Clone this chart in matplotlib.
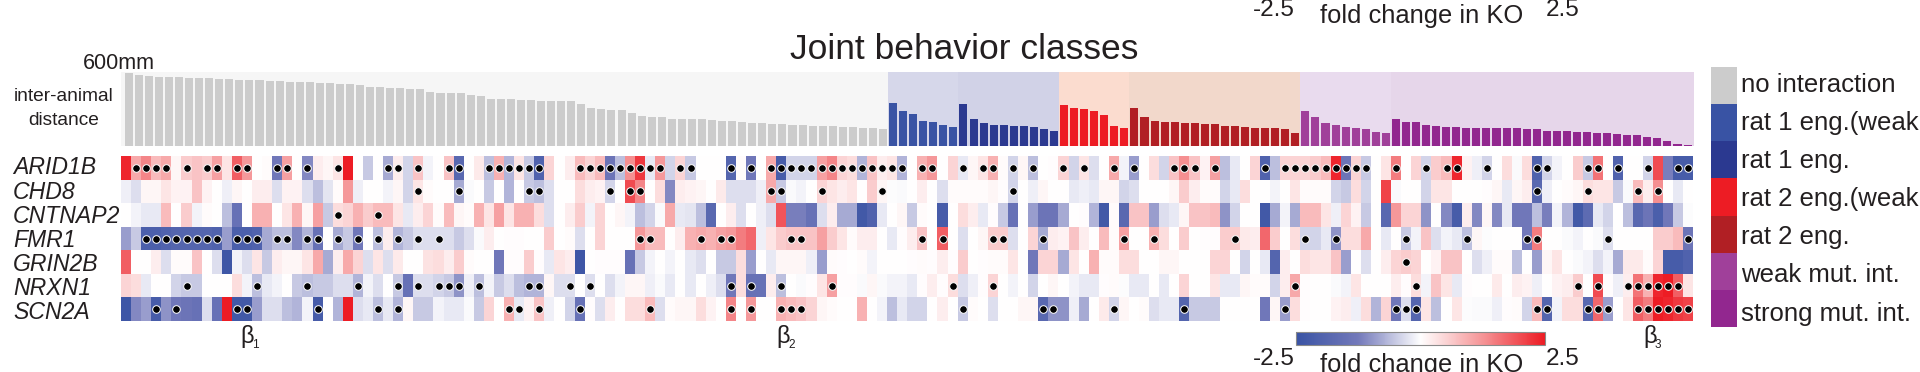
import matplotlib
matplotlib.use('Agg')
import matplotlib.pyplot as plt
from matplotlib.colors import LinearSegmentedColormap
from matplotlib.cm import ScalarMappable
from matplotlib.colors import Normalize
import numpy as np

plt.rcParams['font.family'] = ['Liberation Sans', 'DejaVu Sans']

W, H = 1920, 372

# inter-animal distance in mm, one per interaction, grouped by class
distance = [589,573,567,562,559,557,554,554,551,546,540,535,535,532,527,524,521,519,516,510,
            510,505,502,494,481,478,472,470,464,459,437,432,426,426,413,405,380,378,377,372,
            372,367,367,367,361,339,310,299,291,291,269,244,236,233,217,217,214,214,209,204,
            201,193,187,182,176,174,168,166,163,160,157,155,152,147,141,133,
            345,282,261,204,195,171,149,
            339,214,182,171,166,163,160,155,133,122,
            329,304,296,282,252,163,147,
            307,231,204,190,190,185,182,179,174,163,157,152,147,144,141,133,106,
            280,236,185,166,152,144,133,114,106,
            214,195,195,166,163,152,155,144,144,141,141,141,141,138,133,122,122,117,111,109,
            103,100,95,87,84,68,65,38,14,3]
class_names = ['no interaction', 'rat 1 eng.(weak', 'rat 1 eng.', 'rat 2 eng.(weak',
               'rat 2 eng.', 'weak mut. int.', 'strong mut. int.']
class_sizes = [76, 7, 10, 7, 17, 9, 30]
class_colors = ['#cccccc', '#3953a4', '#2b3990', '#ed1c24', '#b11f24', '#a0409a', '#92278f']
class_bg = ['#f6f6f6', '#d6d7ea', '#d1d2e7', '#fbdccf', '#f2d8cb', '#e9dbee', '#e6d6ea']

genes = ['ARID1B', 'CHD8', 'CNTNAP2', 'FMR1', 'GRIN2B', 'NRXN1', 'SCN2A']

# fold change in KO
ARID1B = [2.4,1.0,1.4,0.8,1.0,0.1,0.6,0.7,0.6,1.1,0.3,1.8,1.2,0,0.05,-1.3,1.1,0,-1.1,0.2,0.1,0.3,2.5,0,-0.5,0,-0.8,0.2,-0.4,
          0.7,-0.1,0,0.7,-1.8,0,0.25,-0.6,0.9,-0.7,0.3,-0.5,-2.0,0.5,0,0.2,0.8,0.5,0.8,-1.4,-0.6,1.3,2.2,-0.2,1.2,-0.4,0.5,-0.5,0,
          0,0,-1.9,0.05,-1.3,0,1.0,-2.2,-0.4,-0.4,-0.4,1.1,1.4,0.5,0.4,-0.7,0.7,0.2,0.3,-0.7,0,0.9,1.2,0,0.5,-0.2,0.1,0.3,0.9,0.05,-0.4,
          0.1,-0.6,0,0.02,0.5,-0.4,0.3,-0.3,0,1.0,-0.1,-0.9,0,0.4,-0.4,0.7,1.3,0.7,0.15,1.1,-0.6,-0.2,0,0.5,-2.0,-0.6,0.5,0.5,0.5,
          0.6,0.8,2.4,-1.4,0.5,-0.5,0,0.3,1.5,0,0.5,-0.4,0.6,0.8,2.4,0.15,-0.15,-0.4,0,0.4,-0.05,0.4,-2.0,-0.4,-0.1,0,0.6,-0.5,1.6,0,-2.0,0,0,-0.4,2.0,-1.2,-2.2,-2.2]
CHD8 = [-0.15,-0.3,0.1,0.1,0.3,0.15,0.15,0.7,0.15,0,-0.15,0.1,0,0.2,0.2,-0.3,0.15,0.15,-0.3,-0.6,-0.25,0.05,1.2,-0.15,0,0,-0.1,0.1,-0.4,
        0.3,0.05,0,0,-0.8,-0.05,0,-0.5,0,-0.7,0,-0.5,-0.6,-0.3,0,0,0.4,0.2,0.15,-0.4,0,2.0,1.4,0,0.4,-1.1,0.2,0.15,0.1,
        0,0.25,-0.3,-0.3,-0.3,-0.15,1.0,-0.5,-0.05,-0.1,0,0.5,0.3,0.2,0.3,0,0.6,0.1,-0.02,-0.05,0,0.2,0,-0.3,0.05,0.05,0.05,0.05,0.1,0.02,-0.4,
        0,-0.15,0.1,0,0,-0.2,-0.15,-0.2,0.1,0.1,-0.4,-0.3,0,0,0,0.1,0.6,0.2,0.05,0.05,-0.4,-0.2,0.4,0,0,-0.1,0,0.3,0.05,
        0.05,0.05,-0.4,-0.5,0.4,-0.4,0,2.1,-0.05,0,0,-0.4,0.3,0.3,0,0,0,0.02,0.1,-0.2,0.1,0.2,-1.8,-0.15,0,0.05,0.1,0.4,0.3,0.3,-0.5,-0.05,0.8,0.2,1.3,0,-0.2,0]
CNTNAP2 = [0,-0.1,-0.2,-0.2,0.8,0,0.6,-0.1,0.05,0,-0.6,-1.5,0,0.9,0.9,0,0.3,0.9,0.1,1.1,-0.5,0.4,0.5,0.9,0.6,0.8,0.8,0.3,-0.2,
           0.2,0.5,0.05,0.8,0.1,0.05,0.9,0.3,1.1,0.3,0.9,0.9,0.4,-0.3,0,0.2,0.6,-0.1,0.5,0,0.1,-0.1,-0.6,-0.4,-0.05,1.0,-0.2,-0.25,-0.6,
           -1.8,0,0.2,-0.3,0,-0.15,-0.3,1.9,-1.2,-1.2,-1.5,-0.3,0.2,-0.8,-0.8,-2.3,-2.0,-0.2,0,0.1,-0.5,0.05,0,-2.2,0,0.4,0.2,-0.2,0.02,-0.5,-1.5,
           0,-0.9,-1.4,-1.4,-0.8,0,0.02,-0.7,-2.3,0.05,-1.8,0.7,0.7,-0.9,-0.3,-0.2,0.1,0.7,0.7,0.8,-1.0,-0.4,0,0,-2.3,-0.8,-0.1,-0.8,0.8,
           0.8,0.3,-0.15,0.5,0.15,-0.5,0,-1.8,1.2,0.5,0.5,-1.0,0,-1.1,-2.2,0.2,-1.1,0.1,-1.1,-0.2,-1.3,-1.3,-0.6,-1.2,-0.1,-0.7,-2.3,-1.7,-0.2,-0.4,0,-0.6,-1.8,-1.4,-2.1,-1.3,-0.5,-0.02]
FMR1 = [-0.9,-0.5,-2.1,-2.1,-2.0,-1.9,-1.9,-1.9,-1.9,-2.0,-0.9,-2.1,-2.1,-2.0,-0.8,-0.6,-0.6,-1.1,-0.7,-1.5,0,-0.8,-0.5,-1.3,0,-0.6,0.2,-0.7,-0.5,
        -0.3,-0.3,-0.3,-0.3,-0.5,-0.3,-0.05,0.2,0,0.02,0.02,0,0,0.6,0,0.05,-0.3,0,0.5,0,0,0,1.2,0.8,0.8,0,0.2,0.9,1.0,
        0.9,1.1,1.2,1.5,1.7,-0.15,0.3,0.6,0.7,0.7,0.7,1.1,0.6,0.3,0.05,0.2,0.2,0,-0.2,0.02,0.2,0.7,0,1.8,0,-0.3,0,0.1,0.6,0.6,-0.3,
        0,0.5,-0.8,0.2,0.15,0.7,0.2,0,0.8,0.05,1.1,0,0,0.9,0.4,0,0.6,0,0.02,0.02,0.6,0.6,0.25,0.2,1.7,0.6,0,0.4,-0.4,
        -0.4,-0.2,-1.0,0.4,0.4,1.0,0,-0.2,0,-0.5,-0.1,0.7,-0.3,-0.1,-0.2,-0.6,0.1,-0.02,0,0,0,-1.3,1.5,0,0,-0.05,-0.1,0,-0.05,-0.3,0,0,0,0,0.6,0.6,0.8,-1.4]
GRIN2B = [1.8,0,0,0.2,-0.3,0.05,0.05,0.7,0,-0.3,-2.4,-0.1,-0.3,0.3,-0.5,0.2,0.1,0.1,0.3,1.0,-0.8,0.2,1.0,0.5,-0.3,0.3,-0.3,0.25,0,
          0,0.35,0.4,0.2,0.6,0.05,0,0,-1.3,0.02,0.02,0.6,0.02,-0.2,0.3,0.2,-2.4,0,0.02,0.02,0.02,-1.5,-0.5,-0.1,0,-0.1,0,-0.2,-0.3,
          0,-0.5,-0.5,0.4,-0.9,0,-0.2,0.1,0.1,0.1,-0.15,-0.9,0.05,0.02,0,0.05,-0.1,0,0,0,0.02,0.05,0.02,0.2,0.02,0.6,0,0.02,0.05,0.05,0.3,
          0,-1.3,0.5,0.5,-0.8,0.3,0,0.9,0.05,0.05,0.4,0.4,0,0,0.1,0.1,0,0,0,0.5,0.5,0,-0.4,0,-0.2,-1.9,0.2,0,0.4,
          0.3,0.3,0.7,-0.9,0,-0.3,0,0.2,0.5,0.6,0.5,0,0.15,0.7,0.7,0,-0.3,-0.15,0.05,0.05,-0.6,0,-0.9,0.1,0.3,0,-0.05,-0.1,-0.3,-0.1,-0.8,0.25,0.25,0.05,0.5,-2.2,-2.2,-2.0]
NRXN1 = [0.5,0.4,-0.2,0,0,-0.4,-0.5,-0.5,0,0,0,0.4,-0.1,-0.6,-0.2,-0.1,0,-0.5,-0.6,-0.5,-0.5,-0.3,-0.3,-0.7,-0.1,-0.3,0,-0.5,-1.5,
         -0.3,-0.3,-0.4,-0.5,-1.0,-0.15,-0.6,-0.1,-0.5,-0.3,-0.6,-0.7,-0.7,0.1,-0.3,-0.3,0,-0.3,0,-0.3,-0.1,0.1,0.1,-0.15,-0.05,-0.2,0,-0.2,0,
         -0.15,-0.3,-1.3,0.4,-1.5,-1.5,0.2,-0.6,0,-0.05,0.02,0.3,1.1,0.02,0.02,-0.05,0.1,-0.05,-0.1,-0.1,-0.2,0.02,0.2,0.02,0.4,-0.3,-0.15,0.02,0.5,0,-0.1,
         0,-0.4,0,0.1,0,-0.1,-0.2,-0.2,0.02,0.05,-0.02,-0.2,-0.2,0,-0.2,0,0.5,0,0,0.3,-0.2,-0.2,0.1,0.05,0.05,-0.4,0.2,1.0,0.02,
         0,0,-0.05,-0.1,0.3,0,0,0,0.2,0.02,0.4,-0.1,0.7,0.3,-0.2,0.02,0,0,0.25,0,0.2,0.15,-0.15,0,0.15,0.2,0.6,0,2.0,0.02,-0.15,0.2,1.6,0.9,2.4,2.5,1.8,0.3]
SCN2A = [-2.4,-1.1,-0.9,-2.2,-1,-1.3,-1.4,-1.5,-0.3,-1.5,2.5,-2.3,-2.3,-0.9,-0.3,-0.3,-0.6,-0.7,-0.1,-2.2,0,-0.7,2.5,-0.3,-0.2,-0.6,-0.2,-0.7,0.1,
         -0.5,-0.5,-0.1,-0.2,-0.2,-0.05,-0.5,0.5,0,0.9,-0.2,0.15,0.7,-0.15,0,-0.4,-1.5,0.02,-0.3,0.2,0,0.4,0.4,0.8,-0.3,0.05,0.1,0.1,0.4,
         0.15,0,1.4,0,1.2,0,0,0.9,0.8,0.7,0.5,0.1,0.05,0,0,0.9,0,-0.1,-0.6,-0.2,-0.4,-0.4,0,0.2,0,-0.5,0.05,0,-0.3,0,0,
         0.1,0.1,-1.8,-1.0,-1.0,-0.15,-0.8,0,0.25,-0.4,0.1,0,0.05,-0.3,-0.2,-0.2,-1.9,-0.5,-0.5,-0.5,0,0,0,0,-1.3,0.1,-0.9,0.4,0.02,
         0,0,0.15,0.2,-0.15,0.4,-0.7,0.5,-1.3,-0.3,-1.9,0.3,-0.6,0,0.3,-0.02,-0.05,-0.05,-0.15,0.02,0.05,-0.4,0.8,-1.9,-0.1,0.4,0.4,-1.8,1.7,-0.9,0,0.3,1.8,1.5,2.5,2.4,2.2,2.1]

# significant cells (column numbers)
dots_ARID1B = [1,2,3,4,6,8,9,11,12,15,16,18,21,26,27,29,32,33,36,37,38,39,40,41,45,46,47,48,49,50,51,52,53,55,56,
               60,62,64,65,66,67,68,69,70,71,72,73,74,75,76,77,79,80,83,85,86,88,90,93,95,98,100,104,105,106,108,
               113,115,116,117,118,119,120,121,122,123,126,129,131,132,135,140,141,145,146,148,151,154,155]
dots_CHD8 = [29,33,40,41,48,50,51,64,65,69,75,88,140,145,150,152]
dots_CNTNAP2 = [21,25]
dots_FMR1 = [2,3,4,5,6,7,8,9,11,12,13,15,16,18,19,21,23,25,27,29,31,51,52,57,59,60,66,67,79,81,86,87,
             91,99,102,110,117,120,127,133,139,140,147,155]
dots_GRIN2B = [127]
dots_NRXN1 = [6,13,18,23,27,29,31,32,33,35,40,41,44,46,60,62,65,70,82,86,116,128,144,146,149,150,151,152,153,154]
dots_SCN2A = [3,5,11,12,19,25,27,38,39,41,45,52,60,62,65,66,67,83,91,92,98,105,115,126,127,128,140,141,145,146,147,
              150,151,152,153,154,155]

matrix = np.array([ARID1B, CHD8, CNTNAP2, FMR1, GRIN2B, NRXN1, SCN2A])
dots = [dots_ARID1B, dots_CHD8, dots_CNTNAP2, dots_FMR1, dots_GRIN2B, dots_NRXN1, dots_SCN2A]

cmap = LinearSegmentedColormap.from_list('fc', ['#3953a4', '#7379ba', '#ffffff', '#f59496', '#ed1c24'])
norm = Normalize(-2.5, 2.5)
ink = '#231f20'


def add_ax(x0, y0, x1, y1):
    # pixel box, measured from the top left
    return fig.add_axes([x0 / W, 1 - y1 / H, (x1 - x0) / W, (y1 - y0) / H])


def label(x, y, s, size, **kw):
    fig.text(x / W, 1 - y / H, s, fontsize=size, color=ink, va='baseline', **kw)


fig = plt.figure(figsize=(W / 100, H / 100), dpi=100, facecolor='white')

# bars
ax = add_ax(121, 72, 1694, 145.7)
n = len(distance)
bar_colors = []
start = 0
for size, col, bg in zip(class_sizes, class_colors, class_bg):
    ax.axvspan(start if start else -1, start + size if start + size < n else n + 1, color=bg, lw=0, zorder=0)
    bar_colors += [col] * size
    start += size
ax.bar(np.arange(n) + 0.5, distance, width=0.8, color=bar_colors, zorder=2)
ax.set_xlim(-0.27, 156.14)
ax.set_ylim(0, 600)
ax.axis('off')

# heatmap
ax = add_ax(121, 156, 1693.5, 321)
ax.pcolormesh(np.arange(n + 1), np.arange(len(genes) + 1), matrix, cmap=cmap, norm=norm, lw=0)
for row, cols in enumerate(dots):
    ax.scatter(np.array(cols) + 0.5, [row + 0.5] * len(cols), s=30, c='black', edgecolors='white', linewidths=0.7, zorder=3)
ax.set_xlim(0, n)
ax.set_ylim(len(genes), 0)
ax.axis('off')

for i, g in enumerate(genes):
    label(13, 174.5 + 24.1 * i, g, 16.6, style='italic')

label(155, 69, '600mm', 15.5, ha='right')
label(64, 101, 'inter-animal', 13.8, ha='center')
label(64, 125, 'distance', 13.8, ha='center')
label(964, 59, 'Joint behavior classes', 25.5, ha='center')

# beta groups
for x, sub in zip([240, 776, 1643], ['1', '2', '3']):
    label(x, 343, '\u03b2', 17)
    label(x + 12, 348, sub, 8.5)

# class legend
ax = add_ax(1711, 67, 1737, 327)
ax.barh(np.arange(7) + 0.5, [1] * 7, height=1, color=class_colors, lw=0)
ax.set_xlim(0, 1)
ax.set_ylim(7, 0)
ax.axis('off')
for i, name in enumerate(class_names):
    label(1741, 92 + 38.1 * i, name, 18.5)

# colour bar, printed twice: the upper copy is cut off by the top edge
cax = add_ax(1296, 332, 1545, 345)
cb = fig.colorbar(ScalarMappable(norm=norm, cmap=cmap), cax=cax, orientation='horizontal')
cb.set_ticks([])
cb.outline.set_edgecolor('#8a8a8a')
cb.outline.set_linewidth(0.8)
for dy in [0, -349]:
    label(1295, 365 + dy, '-2.5', 17.5, ha='right')
    label(1546, 365 + dy, '2.5', 17.5)
    label(1320, 372 + dy, 'fold change in KO', 18.4)

fig.savefig('out.png', dpi=100)
